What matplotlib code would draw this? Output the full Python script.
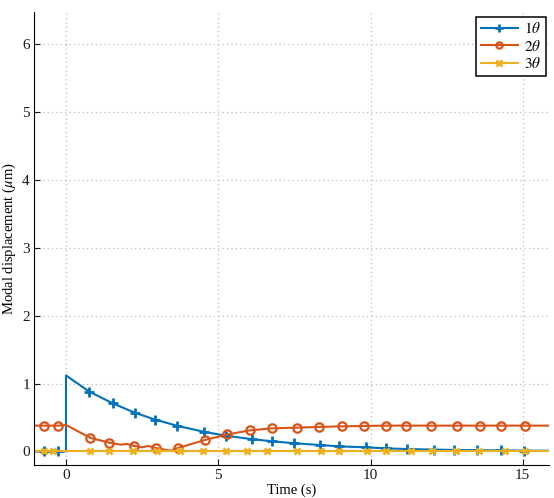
import matplotlib
matplotlib.use("Agg")
import matplotlib.pyplot as plt

plt.rcParams['font.family'] = ['Liberation Serif', 'DejaVu Serif']
plt.rcParams['mathtext.fontset'] = 'stix'

# Series 1 (1θ)
t1 = [-1.05, -0.72, -0.25, 0.0, 0.0, 0.77, 1.53, 2.26, 2.92, 3.63, 4.52, 5.27, 6.12, 6.75,
      7.5, 8.33, 8.95, 9.84, 10.5, 11.2, 12.07, 12.75, 13.5, 14.3, 15.05, 15.85]
y1 = [0.0, 0.0, 0.0, 0.0, 1.12, 0.88, 0.71, 0.57, 0.47, 0.38, 0.29, 0.23, 0.18, 0.15,
      0.12, 0.095, 0.075, 0.06, 0.045, 0.035, 0.027, 0.022, 0.018, 0.015, 0.012, 0.01]
m1 = [1, 2] + list(range(5, 25))

# Series 2 (2θ)
t2 = [-1.05, -0.72, -0.27, 0.0, 0.8, 1.41, 1.8, 2.0, 2.24, 2.5, 2.7, 2.95, 3.2, 3.45, 3.67,
      4.58, 5.3, 6.03, 6.77, 7.57, 8.3, 9.05, 9.77, 10.5, 11.18, 11.97, 12.85, 13.6,
      14.3, 15.08, 15.85]
y2 = [0.38, 0.38, 0.38, 0.39, 0.20, 0.13, 0.10, 0.11, 0.08, 0.06, 0.08, 0.05, 0.03, 0.01, 0.05,
      0.17, 0.25, 0.31, 0.34, 0.35, 0.36, 0.37, 0.375, 0.38, 0.38, 0.38, 0.38, 0.38,
      0.38, 0.38, 0.38]
m2 = [1, 2, 4, 5, 8, 11, 14] + list(range(15, 30))

# Series 3 (3θ)
t3 = [-1.05, -0.72, -0.43, 0.8, 1.41, 2.2, 2.98, 3.74, 4.49, 5.25, 5.93, 6.6, 7.6, 8.36,
      8.95, 9.87, 10.5, 11.34, 12.03, 12.8, 13.57, 14.4, 15.08, 15.85]
y3 = [0.0] * len(t3)
m3 = list(range(1, 23))

labels = [r'$1\theta$', r'$2\theta$', r'$3\theta$']
colors = ['#0072BD', '#D95319', '#EDB120']

fig = plt.figure(figsize=(5.54, 4.98), dpi=100)
ax = fig.add_axes([0.0614, 0.0663, 0.929, 0.91])

ax.plot(t1, y1, color=colors[0], lw=1.5, marker='+', ms=7, mew=2, markevery=m1, label=labels[0])
ax.plot(t2, y2, color=colors[1], lw=1.5, marker='o', ms=6, mew=1.6, mfc='none', markevery=m2, label=labels[1])
ax.plot(t3, y3, color=colors[2], lw=1.5, marker='x', ms=5, mew=2, markevery=m3, label=labels[2])

ax.set_xlim(-1.05, 15.85)
ax.set_ylim(-0.2, 6.48)
ax.set_xticks([0, 5, 10, 15])
ax.set_yticks([0, 1, 2, 3, 4, 5, 6])
ax.grid(True, color='#bdbdbd', linestyle=(0, (1, 2.5)), linewidth=0.9)
ax.set_axisbelow(True)
for s in ['top', 'right']:
    ax.spines[s].set_visible(False)
ax.tick_params(direction='in', length=4, labelsize=11, colors='#1a1a1a', pad=3)
ax.set_xlabel('Time (s)', fontsize=10.5, labelpad=1)
ax.set_ylabel(r'Modal displacement ($\mu$m)', fontsize=10.5, labelpad=3)

leg = ax.legend(loc='upper right', fontsize=11, frameon=True, fancybox=False,
                edgecolor='black', framealpha=1, borderpad=0.3, handlelength=2.4,
                handletextpad=0.4, labelspacing=0.15, borderaxespad=0,
                markerscale=0.75, bbox_to_anchor=(0.994, 0.989))
leg.get_frame().set_linewidth(1.1)

fig.savefig('out.png', dpi=100)
